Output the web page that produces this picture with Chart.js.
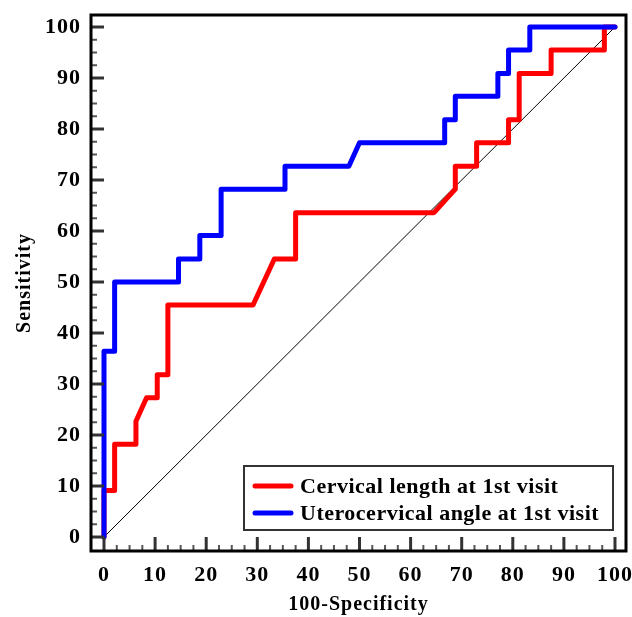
<!DOCTYPE html>
<html>
<head>
<meta charset="utf-8">
<script src="https://cdn.jsdelivr.net/npm/chart.js@4"></script>
<style>
  body { margin: 0; background: #fff; }
</style>
</head>
<body>
<canvas id="rocChart" width="632" height="617"></canvas>
<script>
// ROC curve points (100-Specificity, Sensitivity)
const cervicalX = [0, 0, 2.08, 2.08, 6.25, 6.25, 8.33, 10.42, 10.42, 12.5, 12.5, 29.17, 33.33, 37.5, 37.5, 64.58, 68.75, 68.75, 72.92, 72.92, 79.17, 79.17, 81.25, 81.25, 87.5, 87.5, 97.92, 97.92, 100];
const cervicalY = [0, 9.1, 9.1, 18.2, 18.2, 22.7, 27.3, 27.3, 31.8, 31.8, 45.5, 45.5, 54.5, 54.5, 63.6, 63.6, 68.2, 72.7, 72.7, 77.3, 77.3, 81.8, 81.8, 90.9, 90.9, 95.5, 95.5, 100, 100];

const angleX = [0, 0, 2.08, 2.08, 14.58, 14.58, 18.75, 18.75, 22.92, 22.92, 35.42, 35.42, 47.92, 50, 66.67, 66.67, 68.75, 68.75, 77.08, 77.08, 79.17, 79.17, 83.33, 83.33, 100];
const angleY = [0, 36.4, 36.4, 50, 50, 54.5, 54.5, 59.1, 59.1, 68.2, 68.2, 72.7, 72.7, 77.3, 77.3, 81.8, 81.8, 86.4, 86.4, 90.9, 90.9, 95.5, 95.5, 100, 100];

const refX = [0, 100];
const refY = [0, 100];

const seriesLabels = ['Cervical length at 1st visit', 'Uterocervical angle at 1st visit'];
const tickValues = [0, 10, 20, 30, 40, 50, 60, 70, 80, 90, 100];

function toPoints(xs, ys) {
  return xs.map(function (x, i) { return { x: x, y: ys[i] }; });
}

function fixedTicks(s) {
  s.ticks = tickValues.map(function (v) { return { value: v }; });
}

const FONT = 'Liberation Serif';

// frame, inward ticks and the legend box
const framePlugin = {
  id: 'frame',
  beforeDraw(chart) {
    chart.ctx.letterSpacing = '1px';
  },
  afterDraw(chart) {
    const ctx = chart.ctx;
    const a = chart.chartArea;
    const xs = chart.scales.x;
    const ys = chart.scales.y;
    const x0 = xs.getPixelForValue(0);
    const y0 = ys.getPixelForValue(0);
    ctx.save();

    // y ticks
    for (let v = 0; v <= 100; v += 2.5) {
      const major = v % 10 === 0;
      const py = ys.getPixelForValue(v);
      ctx.beginPath();
      ctx.strokeStyle = major ? '#333' : '#555';
      ctx.lineWidth = major ? 3 : 2;
      ctx.moveTo(a.left, py);
      ctx.lineTo(major ? x0 : a.left + 7, py);
      ctx.stroke();
    }
    // x ticks
    for (let v = 0; v <= 100; v += 2.5) {
      const major = v % 10 === 0;
      const px = xs.getPixelForValue(v);
      ctx.beginPath();
      ctx.strokeStyle = major ? '#333' : '#555';
      ctx.lineWidth = major ? 3 : 2;
      ctx.moveTo(px, a.bottom);
      ctx.lineTo(px, major ? y0 : a.bottom - 7);
      ctx.stroke();
    }

    ctx.strokeStyle = '#000';
    ctx.lineWidth = 3;
    ctx.strokeRect(a.left + 1, a.top + 1, a.right - a.left - 2, a.bottom - a.top - 2);

    // legend
    const bw = 369, bh = 64;
    const bx = a.right - 14 - bw, by = a.bottom - 22 - bh;
    ctx.fillStyle = '#fff';
    ctx.fillRect(bx, by, bw, bh);
    ctx.strokeStyle = '#333';
    ctx.lineWidth = 2;
    ctx.strokeRect(bx, by, bw, bh);
    ctx.font = 'bold 22px "' + FONT + '"';
    ctx.letterSpacing = '0.5px';
    ctx.textBaseline = 'middle';
    ctx.textAlign = 'left';
    ctx.lineCap = 'round';
    for (let i = 0; i < 2; i++) {
      const ds = chart.data.datasets[i];
      const ly = by + 20 + i * 27;
      ctx.beginPath();
      ctx.strokeStyle = ds.borderColor;
      ctx.lineWidth = 5;
      ctx.moveTo(bx + 11, ly);
      ctx.lineTo(bx + 47, ly);
      ctx.stroke();
      ctx.fillStyle = '#000';
      ctx.fillText(ds.label, bx + 56, ly + 1);
    }
    ctx.restore();
  }
};

const ctx = document.getElementById('rocChart');

new Chart(ctx, {
  type: 'line',
  data: {
    datasets: [{
      label: seriesLabels[0],
      data: toPoints(cervicalX, cervicalY),
      borderColor: '#ff0000',
      borderWidth: 5,
      order: 1
    }, {
      label: seriesLabels[1],
      data: toPoints(angleX, angleY),
      borderColor: '#0000ff',
      borderWidth: 5,
      order: 0
    }, {
      label: 'reference',
      data: toPoints(refX, refY),
      borderColor: '#000',
      borderWidth: 1,
      order: 2
    }]
  },
  options: {
    responsive: false,
    animation: false,
    layout: { autoPadding: false, padding: { top: 14, right: 5, left: 0, bottom: 0 } },
    elements: {
      point: { radius: 0 },
      line: { tension: 0, borderJoinStyle: 'round', borderCapStyle: 'round', fill: false }
    },
    plugins: {
      legend: { display: false },
      tooltip: { enabled: false }
    },
    scales: {
      x: {
        type: 'linear',
        min: -2.74,
        max: 102.35,
        afterBuildTicks: fixedTicks,
        afterFit: function (s) {
          s.height = 65;
          s.paddingLeft = 0; s.paddingRight = 0;
        },
        grid: { display: false, drawTicks: false },
        border: { display: false },
        ticks: { padding: 10, color: '#000', font: { family: FONT, size: 22, weight: 'bold' } },
        title: { display: true, text: '100-Specificity', color: '#000', padding: { top: 0, bottom: 0 },
                 font: { family: FONT, size: 20, weight: 'bold' } }
      },
      y: {
        type: 'linear',
        min: -2.94,
        max: 102.55,
        afterBuildTicks: fixedTicks,
        afterFit: function (s) {
          s.width = 90;
          s.paddingTop = 0; s.paddingBottom = 0;
        },
        grid: { display: false, drawTicks: false },
        border: { display: false },
        ticks: { padding: 9, color: '#000', font: { family: FONT, size: 22, weight: 'bold' } },
        title: { display: true, text: 'Sensitivity', color: '#000', padding: { top: 13, bottom: 0 },
                 font: { family: FONT, size: 20, weight: 'bold' } }
      }
    }
  },
  plugins: [framePlugin]
});
</script>
</body>
</html>
